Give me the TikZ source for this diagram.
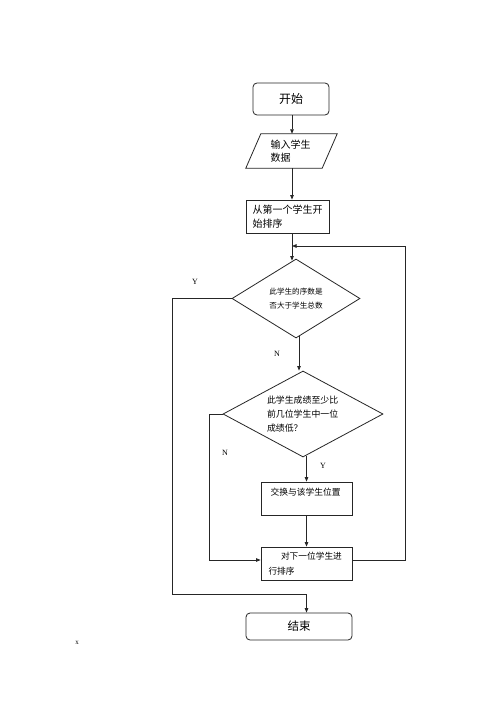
\documentclass[tikz,border=0pt]{standalone}
\usepackage{fontspec}
\setmainfont{Liberation Serif}
\newfontfamily\cjk{Noto Sans CJK SC}
\usetikzlibrary{shapes.geometric,arrows.meta,calc}
\begin{document}
\begin{tikzpicture}[x=1pt,y=-1pt,
  line/.style={draw=black!85,line width=0.8pt},
  arr/.style={line,-{Triangle[length=4.5pt,width=3.5pt]}},
  term/.style={line,rounded corners=4pt,inner sep=0pt,font=\cjk\fontsize{12}{14}\selectfont},
  boxn/.style={line,inner sep=0pt,align=left},
  dia/.style={line,diamond,shape aspect=2,inner sep=0pt,align=left},
  lab/.style={inner sep=0pt,font=\fontsize{8}{9}\selectfont}]
\useasboundingbox (0,0) rectangle (500,708);
\fill[white] (0,0) rectangle (500,708);
% columns
\coordinate (colA) at (292,0);
\coordinate (colB) at (299,0);
% nodes
\node[term,minimum width=76pt,minimum height=32pt] (start) at (291,99) {开始};
\node[inner sep=0pt,minimum width=76pt,minimum height=34pt,align=left,
      font=\cjk\fontsize{10}{13.5}\selectfont,text width=42pt] (para) at (291.5,151) {输入学生\\数据};
\draw[line] ([xshift=7.5pt]para.north west) -- ([xshift=7.5pt]para.north east)
  -- ([xshift=-7.5pt]para.south east) -- ([xshift=-7.5pt]para.south west) -- cycle;
\node[boxn,minimum width=83pt,minimum height=33pt,text width=70pt,
      font=\cjk\fontsize{10}{14}\selectfont] (rect1) at (287.5,216.5) {从第一个学生开\\始排序};
\node[dia,minimum width=128pt,minimum height=79pt,
      font=\cjk\fontsize{7.6}{14}\selectfont] (d1) at (296,298.5) {此学生的序数是\\否大于学生总数};
\node[dia,minimum width=160pt,minimum height=86pt,text width=72pt,
      font=\cjk\fontsize{8.9}{14}\selectfont] (d2) at (303,414) {此学生成绩至少比\\前几位学生中一位\\成绩低？};
\node[boxn,minimum width=91pt,minimum height=33pt,text width=72pt,text depth=13pt,
      font=\cjk\fontsize{8.75}{14}\selectfont] (swap) at (306.5,498.5) {交换与该学生位置};
\node[boxn,minimum width=91pt,minimum height=33pt,text width=76pt,
      font=\cjk\fontsize{8.7}{15}\selectfont] (next) at (306.5,563.5) {\hspace*{12.5pt}对下一位学生进\\行排序};
\node[term,minimum width=106pt,minimum height=27pt,font=\cjk\fontsize{11.5}{13}\selectfont] (end) at (299,626.5) {结束};
% labels
\node[lab] (y1) at (195,282) {Y};
\node[lab] (n1) at (277,354) {N};
\node[lab] (n2) at (225,453) {N};
\node[lab] (y2) at (323,466) {Y};
\node[inner sep=0pt,font=\fontsize{7}{8}\selectfont] (xm) at (77,643) {x};
% helper coordinates
\coordinate (yl) at (172,594);
\coordinate (nl) at (209,560);
\coordinate (lp) at (405,246);
% connectors
\draw[arr] (start.south -| colA) -- (para.north -| colA);
\draw[arr] (para.south -| colA) -- (rect1.north -| colA);
\draw[arr] (rect1.south -| colA) -- ($(d1.north -| colA)+(0,2)$);
\draw[arr] ($(d1.south -| colB)+(0,-2)$) -- (d2.north -| colB);
\draw[arr] ($(d2.south -| swap)+(0,-1)$) -- (swap.north);
\draw[arr] (swap.south) -- (next.north);
\draw[arr] (d2.west) -| (nl) -- (nl -| next.west);
\draw[arr] (d1.west) -| (yl) -| (end.north -| next);
\draw[arr] (nl -| next.east) -| (lp) -- (lp -| colA);
\end{tikzpicture}
\end{document}
